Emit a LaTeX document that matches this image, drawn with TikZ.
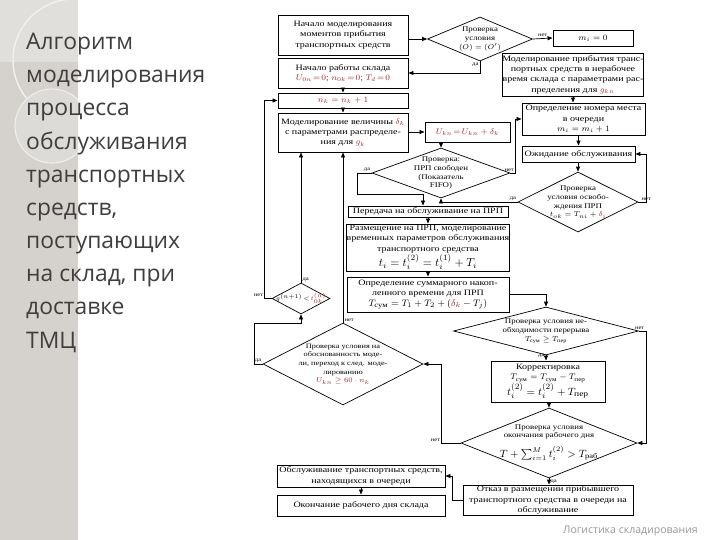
\documentclass[tikz,border=0pt]{standalone}
\usepackage{amsmath}
\usepackage{fontspec}
\newfontfamily\titlefont{Open Sans}
\newfontfamily\flowfont[FakeStretch=1.22]{Liberation Serif}
\usetikzlibrary{positioning,arrows.meta,calc,shapes.geometric}
\definecolor{panel}{RGB}{213,210,206}
\definecolor{panellt}{RGB}{225,223,220}
\definecolor{ink}{RGB}{62,62,62}
\definecolor{footgray}{RGB}{150,150,150}
\definecolor{formred}{RGB}{160,40,40}
\newlength\pxu
\setlength\pxu{0.3mm}
\newcommand\flowtxt{\flowfont\fontsize{7}{8.8}\selectfont}
\newcommand\dectxt{\flowfont\fontsize{6.2}{7.6}\selectfont}
\newcommand\rv[1]{\textcolor{formred}{#1}}
\tikzset{
  box/.style={draw=black, line width=0.8pt, fill=white, align=center, inner sep=0pt,
              font=\flowtxt},
  dec/.style={draw=black, line width=0.6pt, diamond, inner sep=0pt, fill=white},
  dtxt/.style={align=center, inner sep=0pt, font=\dectxt},
  arr/.style={-{Triangle[length=1.5mm,width=1.2mm]}, line width=0.6pt},
  lbl/.style={font=\flowfont\fontsize{4.6}{5}\selectfont, inner sep=1pt},
  ttl/.style={align=left, inner sep=0pt, text=ink,
              font=\titlefont\fontsize{19.5}{28.3}\selectfont},
  foot/.style={inner sep=0pt, text=footgray, font=\titlefont\fontsize{9}{10}\selectfont},
}
\begin{document}
\begin{tikzpicture}[x=0.3mm, y=-0.3mm]
  \useasboundingbox (0,0) rectangle (720,540);

  % side panel
  \fill[panel] (0,0) rectangle (78,540);
  \fill[panellt] (0,0) rectangle (78,62);
  \begin{scope}
    \clip (0,0) rectangle (78,540);
    \draw[white!70!panel, line width=1.2pt] (74,60) circle (61);
    \fill[panel!80!white] (52,126) circle (37);
    \draw[white!60!panel, line width=1pt] (52,126) circle (37);
  \end{scope}
  \node[ttl, anchor=north west] (title) at (26,33)
    {Алгоритм\\моделирования\\процесса\\обслуживания\\транспортных\\средств,\\поступающих\\на склад, при\\доставке\\ТМЦ};
  \node[foot, anchor=base east] (footer) at (698,533) {Логистика складирования};

  % left column
  \node[box, minimum width=130\pxu, minimum height=40\pxu] (start) at (343,35)
    {Начало моделирования\\моментов прибытия\\транспортных средств};
  \node[box, minimum width=130\pxu, minimum height=30\pxu] (open) at (343,73)
    {Начало работы склада\\\rv{$U_{0n}\!=\!0$; $n_{0k}\!=\!0$; $T_d\!=\!0$}};
  \node[box, minimum width=130\pxu, minimum height=15\pxu] (count) at (343,100.5)
    {\rv{$n_k=n_k+1$}};
  \node[box, minimum width=130\pxu, minimum height=39\pxu] (delta) at (343,132.5)
    {Моделирование величины \rv{$\delta_k$}\\с параметрами распределе-\\ния для \rv{$g_k$}};
  \node[box, minimum width=85\pxu, minimum height=20\pxu] (sum) at (467.5,132)
    {\rv{$U_{kn}\!=\!U_{kn}+\delta_k$}};
  \node[dec, minimum width=138\pxu, minimum height=50\pxu,
        label={[dtxt]center:{Проверка:\\ПРП свободен\\(Показатель\\FIFO)}}] (free) at (441,173) {};
  \node[box, minimum width=160\pxu, minimum height=11\pxu] (pass) at (428,211.5)
    {Передача на обслуживание на ПРП};
  \node[box, minimum width=160\pxu, minimum height=47\pxu] (place) at (428,247.5)
    {Размещение на ПРП, моделирование\\временных параметров обслуживания\\транспортного средства\\
     {\fontsize{10}{11}\selectfont $t_i=t_i^{(2)}=t_i^{(1)}+T_i$}};
  \node[box, minimum width=162\pxu, minimum height=35\pxu] (accum) at (428,294.5)
    {Определение суммарного накоп-\\ленного времени для ПРП\\
     {\fontsize{8.5}{10}\selectfont $T_{\text{сум}}=T_1+T_2+(\rv{\delta_k}-T_j)$}};
  \node[dec, minimum width=58\pxu, minimum height=31\pxu,
        label={[dtxt, font=\flowfont\fontsize{4.4}{5}\selectfont]center:{$g^{(n+1)}\!<\!\rv{t_{0k}^{(n)}}$}}] (gap) at (301,298.5) {};
  \node[dec, minimum width=160\pxu, minimum height=82\pxu,
        label={[dtxt, font=\flowfont\fontsize{5.8}{7.4}\selectfont]center:{Проверка условия на\\обоснованность моде-\\ли, переход к след. моде-\\лированию\\\rv{$U_{kn}\geq 60\cdot n_k$}}}] (valid) at (343,364) {};

  % right column
  \node[box, minimum width=80\pxu, minimum height=16\pxu] (zero) at (593,38) {$m_i=0$};
  \node[dec, minimum width=105\pxu, minimum height=44\pxu,
        label={[dtxt]center:{Проверка\\условия\\$(O)=(O')$}}] (cond) at (480,39) {};
  \node[box, minimum width=140\pxu, minimum height=43\pxu] (offhrs) at (573,74.5)
    {Моделирование прибытия транс-\\портных средств в нерабочее\\время склада с параметрами рас-\\пределения для \rv{$g_{kn}$}};
  \node[box, minimum width=123\pxu, minimum height=32\pxu] (queue) at (583.5,119)
    {Определение номера места\\в очереди\\$m_i=m_i+1$};
  \node[box, minimum width=113\pxu, minimum height=16\pxu] (wait) at (578.5,154)
    {Ожидание обслуживания};
  \node[dec, minimum width=120\pxu, minimum height=60\pxu,
        label={[dtxt]center:{Проверка\\условия освобо-\\ждения ПРП\\$t_{ok}=T_{ni}+\rv{\delta_i}$}}] (release) at (578,202) {};
  \node[dec, minimum width=185\pxu, minimum height=48\pxu,
        label={[dtxt]center:{Проверка условия не-\\обходимости перерыва\\$T_{\text{сум}}\geq T_{\text{пер}}$}}] (brk) at (546,331) {};
  \node[box, minimum width=114\pxu, minimum height=41\pxu] (fix) at (548,381.5)
    {Корректировка\\$T_{\text{сум}}=T_{\text{сум}}-T_{\text{пер}}$\\
     {\fontsize{9.5}{11}\selectfont $t_i^{(2)}=t_i^{(2)}+T_{\text{пер}}$}};
  \node[dec, minimum width=176\pxu, minimum height=70\pxu,
        label={[dtxt, yshift=9.5pt]center:{Проверка условия\\окончания рабочего дня}},
        label={[dtxt, yshift=-9pt]center:{\fontsize{9}{10}\selectfont $T+\sum\nolimits_{i=1}^{M} t_i^{(2)}>T_{\text{раб}}$}}] (dayend) at (549,443) {};
  \node[box, minimum width=170\pxu, minimum height=30\pxu] (refuse) at (548,500)
    {Отказ в размещении прибывшего\\транспортного средства в очереди на\\обслуживание};
  \node[box, minimum width=168\pxu, minimum height=22\pxu] (serveq) at (361,476)
    {Обслуживание транспортных средств,\\находящихся в очереди};
  \node[box, minimum width=168\pxu, minimum height=21\pxu] (close) at (361,505.5)
    {Окончание рабочего дня склада};

  \draw[arr] (start.east |- cond.west) -- (cond.west);
  \draw[arr] (cond.east) -- (zero.west) node[lbl, midway, above] {нет};
  \draw[arr] (cond.south) |- (open.east) node[lbl, pos=0, anchor=north east] {да};
  \draw[arr] (open) -- (count);
  \draw[arr] (count) -- (delta);
  \draw[arr] (delta.east |- sum.west) -- (sum.west);
  \draw[arr] (sum.south -| free.north) -- (free.north);
  \draw[arr] (free.east) -- ++(5,0) |- (queue.west) node[lbl, pos=0, above left] {нет};
  \coordinate (yes1) at (423,194);
  \draw[arr] (free.west) -- ++(-14,0) |- (yes1) -- (yes1 |- pass.north);
  \node[lbl, above left=0pt of free.west] (yesfree) {да};
  \draw[arr] (release.west) -| (free.south) node[lbl, pos=0, above left] {да};
  \draw[arr] (pass) -- (place);
  \draw[arr] (place) -- (accum);
  \draw[arr] (offhrs.south) -- (offhrs.south |- queue.north);
  \draw[arr] (queue.south -| wait.north) -- (wait.north);
  \draw[arr] (wait.south -| release.north) -- (release.north);
  \draw[arr] (release.east) -- ++(8,0) |- (wait.east) node[lbl, pos=0, anchor=south] {нет};

  % break and day end
  \draw[arr] (accum.east) -| (brk.north);
  \draw[arr] (brk.south) -- (brk.south |- fix.north) node[lbl, pos=0, left] {да};
  \draw[arr] (brk.east) -- ++(7,0) |- (dayend.east) node[lbl, pos=0, above left] {нет};
  \draw[arr] (fix.south -| dayend.north) -- (dayend.north);
  \draw[arr] (dayend.west) -- ++(-19,0) |- (valid.east) node[lbl, pos=0, above left] {нет};
  \draw[arr] (dayend.south) -- (dayend.south |- refuse.north) node[lbl, pos=0, anchor=north west] {да};
  \draw[arr] (refuse.west) -- ++(-10,0) |- (serveq.east);
  \draw[arr] (serveq) -- (close);

  % loops back to the top
  \draw[arr] (valid.north) -- (valid.north |- delta.south) node[lbl, pos=0, above right] {нет};
  \draw[arr] (valid.west) -- ++(-8,0) |- ($(gap.south)+(0,9)$) -- (gap.south);
  \node[lbl, above left=0pt of valid.west] (yesvalid) {да};
  \draw[arr] (gap.north) -- (gap.north |- delta.south) node[lbl, pos=0, above right] {да};
  \draw[arr] (gap.west) -- ++(-7,0) |- (count.west) node[lbl, pos=0, above left] {нет};
\end{tikzpicture}
\end{document}
